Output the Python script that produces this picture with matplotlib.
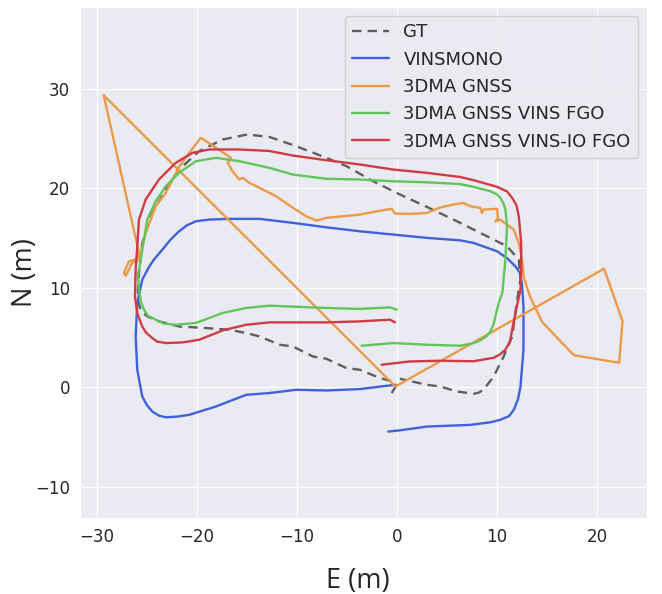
"""Trajectory comparison in the local E/N frame."""
import matplotlib.pyplot as plt
import seaborn as sns

# ground truth path (E, N in metres)
gt_e = [-0.53, -0.13, -0.37, -1.71, -3.71, -5.05, -7.06, -8.40, -10.41, -11.75,
        -13.75, -15.09, -16.77, -19.11, -21.79, -23.80, -24.90, -25.55, -25.85,
        -25.90, -25.80, -25.47, -24.47, -23.12, -21.79, -19.78, -17.44, -14.96,
        -12.75, -10.41, -7.06, -5.05, -2.38, 0.30, 2.98, 6.33, 7.66, 11.01, 12.18,
        12.35, 12.02, 11.52, 10.67, 9.67, 8.66, 8.15, 7.66, 5.99, 4.32, 2.98, 0.30]
gt_n = [-0.58, 0.08, 0.58, 0.93, 1.76, 1.93, 2.87, 3.10, 4.11, 4.28,
        5.12, 5.46, 5.79, 5.96, 6.12, 6.63, 7.10, 7.60, 8.50,
        9.80, 11.50, 14.52, 17.54, 19.89, 21.90, 23.75, 24.92, 25.43,
        25.18, 24.37, 23.08, 22.24, 20.72, 19.39, 18.15, 16.54, 15.86, 14.18, 12.84,
        10.83, 8.81, 5.12, 3.10, 1.09, -0.25, -0.55, -0.65, -0.42, 0.08, 0.25, 0.86]

vins_e = [-0.87, 0.30, 2.98, 7.33, 9.34, 10.34, 11.20, 11.68, 12.10, 12.35,
          12.65, 12.65, 12.50, 12.30, 11.90, 11.00, 10.01, 7.66, 6.33, 2.98, -0.37,
          -3.71, -7.06, -10.41, -13.75, -16.77, -18.78, -20.11, -21.00, -21.79,
          -22.60, -23.46, -24.30, -24.80, -25.47, -25.97, -26.13, -25.97, -25.47,
          -25.00, -24.47, -23.80, -23.12, -22.00, -20.78, -18.10, -15.09, -12.75,
          -10.07, -7.06, -3.71, -1.03, -0.10]
vins_n = [-4.45, -4.33, -3.95, -3.78, -3.52, -3.27, -2.90, -2.27, -1.20, 0.05,
          3.78, 8.14, 10.30, 11.50, 12.10, 13.00, 13.68, 14.52, 14.78, 15.03, 15.36,
          15.69, 16.09, 16.54, 16.94, 16.94, 16.87, 16.70, 16.30, 15.69,
          14.90, 13.85, 12.85, 12.10, 10.83, 8.48, 5.12, 1.76, -0.93,
          -1.80, -2.44, -2.85, -3.02, -2.95, -2.77, -1.93, -0.76, -0.58,
          -0.25, -0.32, -0.18, 0.15, 0.25]

gnss_e = [-29.32, -25.80, -26.13, -26.81, -27.31, -27.11, -26.48, -25.80, -25.13,
          -24.13, -23.12, -21.79, -20.78, -19.61, -16.60, -16.93, -16.44, -15.76,
          -15.43, -14.76, -13.75, -12.08, -10.41, -9.07, -8.06, -7.06, -5.39,
          -3.71, -2.04, -0.53, -0.20, 1.31, 2.98, 4.32, 5.65, 6.66, 7.33, 8.33,
          8.50, 8.66, 10.01, 10.10, 9.84, 10.30, 11.01, 11.68, 12.18, 12.52, 12.68,
          13.35, 14.53, 17.70, 22.22, 22.56, 20.71, -0.15, -29.32]
gnss_n = [29.36, 13.51, 12.84, 12.67, 11.50, 11.23, 12.51, 12.84, 15.53,
          18.21, 19.56, 22.16, 23.58, 25.10, 23.08, 22.58, 21.73, 20.90,
          21.07, 20.56, 20.06, 19.21, 18.05, 17.20, 16.77, 17.04, 17.20,
          17.37, 17.70, 17.95, 17.47, 17.44, 17.54, 18.08, 18.38, 18.55, 18.21, 18.05,
          17.54, 17.88, 17.95, 17.07, 16.67, 16.87, 16.36, 15.86, 14.52, 12.84, 11.03,
          9.01, 6.55, 3.22, 2.47, 6.65, 11.93, 0.08, 29.36]

fgo_e = [-0.03, -0.70, -3.71, -7.06, -10.41, -12.75, -15.09, -17.44, -20.11,
         -22.12, -23.30, -24.13, -24.90, -25.30, -25.60, -25.80, -25.90, -25.70,
         -25.30, -24.97, -24.13, -23.12, -21.79, -20.11, -18.10, -15.76, -12.75,
         -10.41, -7.06, -3.71, -0.37, 2.98, 6.33, 7.66, 9.34, 10.00, 10.34, 10.65,
         10.84, 11.01, 10.84, 10.54, 10.17, 9.67, 9.40, 8.94, 8.30, 7.66, 6.33,
         2.98, -0.37, -3.54]
fgo_n = [7.80, 8.04, 7.88, 7.98, 8.11, 8.21, 7.98, 7.47, 6.47,
         6.29, 6.40, 6.80, 7.20, 7.80, 8.60, 9.82, 11.33, 12.34,
         14.85, 16.87, 18.71, 20.22, 21.57, 22.74, 23.08, 22.74, 22.07,
         21.40, 20.97, 20.90, 20.72, 20.62, 20.44, 20.16, 19.72, 19.40, 19.05, 18.50,
         17.88, 16.19, 12.84, 9.52, 8.48, 6.39, 5.70, 5.12, 4.70, 4.45, 4.18,
         4.28, 4.45, 4.18]

fgo_io_e = [-0.20, -0.70, -3.71, -7.06, -10.41, -12.75, -15.09, -17.44, -19.78,
            -21.46, -23.12, -24.00, -24.47, -25.10, -25.47, -25.97, -26.20, -26.13,
            -25.97, -25.80, -25.13, -23.80, -22.12, -20.45, -18.78, -15.76, -12.75,
            -10.41, -7.06, -3.71, -0.37, 2.98, 6.33, 7.66, 10.01, 11.00, 11.52,
            11.95, 12.18, 12.42, 12.42, 12.35, 12.02, 11.52, 11.30, 10.84, 10.30,
            9.67, 7.66, 4.32, 1.31, -1.54]
fgo_io_n = [6.53, 6.80, 6.63, 6.53, 6.53, 6.53, 6.29, 5.72, 4.78,
            4.51, 4.45, 4.60, 4.96, 5.50, 6.12, 7.47, 9.14, 11.83,
            14.18, 16.87, 18.88, 20.90, 22.58, 23.58, 23.92, 23.92, 23.77,
            23.31, 22.84, 22.41, 21.90, 21.57, 21.15, 20.83, 20.16, 19.70, 19.05,
            18.30, 17.20, 14.52, 11.83, 9.82, 8.31, 5.79, 4.60, 3.78, 3.30,
            2.97, 2.62, 2.67, 2.60, 2.27]

x_ticks = [-30, -20, -10, 0, 10, 20]
y_ticks = [-10, 0, 10, 20, 30]


def _plot_trajectories():
    sns.set_style('darkgrid')
    plt.rcParams['font.family'] = ['DejaVu Sans']

    fig = plt.figure(figsize=(6.62, 5.94), dpi=100)
    ax = fig.add_axes([0.1208, 0.1279, 0.8565, 0.8603])

    ax.plot(gt_e, gt_n, color='#5f5f5f', linestyle=(0, (4, 2.6)),
            linewidth=1.7, label='GT')
    ax.plot(vins_e, vins_n, color='#3f62dc', linewidth=1.7, label='VINSMONO')
    ax.plot(gnss_e, gnss_n, color='#eb9a48', linewidth=1.7, label='3DMA GNSS')
    ax.plot(fgo_e, fgo_n, color='#62c65c', linewidth=1.7,
            label='3DMA GNSS VINS FGO')
    ax.plot(fgo_io_e, fgo_io_n, color='#cf3c44', linewidth=1.7,
            label='3DMA GNSS VINS-IO FGO')

    ax.set_xlim(-31.7, 25.0)
    ax.set_ylim(-13.15, 38.25)
    ax.set_xticks(x_ticks)
    ax.set_yticks(y_ticks)
    ax.tick_params(labelsize=12, colors='#262626')

    ax.set_xlabel('E (m)', fontsize=19.5, family='Open Sans')
    ax.set_ylabel('N (m)', fontsize=19.5, family='Open Sans')
    ax.xaxis.set_label_coords(0.49, -0.095)
    ax.yaxis.set_label_coords(-0.073, 0.48)

    ax.legend(loc='upper right', fontsize=13, labelspacing=0.52,
              handlelength=2.05, borderaxespad=0.5)

    fig.savefig('out.png', dpi=100)


if __name__ == '__main__':
    _plot_trajectories()
